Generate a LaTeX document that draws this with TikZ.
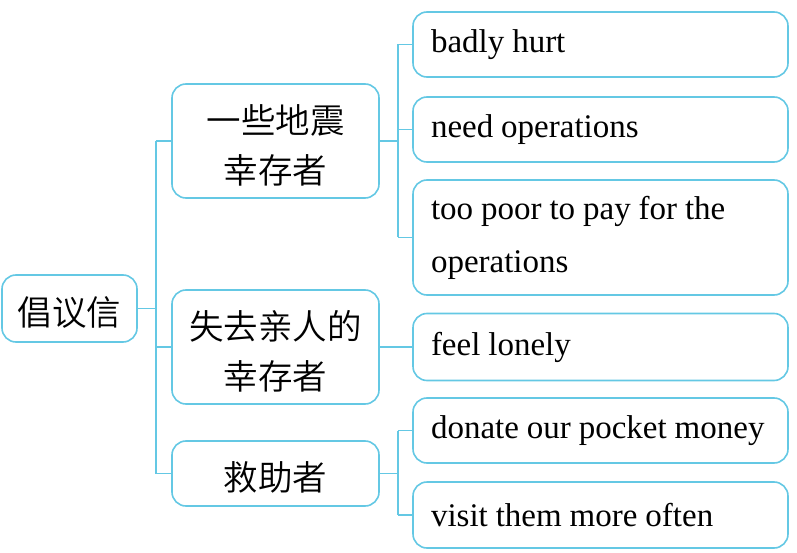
\documentclass[tikz,border=0pt]{standalone}
\usepackage{fontspec}
\setmainfont{Liberation Serif}
\newfontfamily\cjk{Noto Sans CJK SC DemiLight}
\newcommand\mystrut{\rule[-0.1em]{0pt}{1.2em}}
\newcommand\tightspace{\spaceskip 0.24em\relax}
\definecolor{boxblue}{RGB}{100,200,228}
\begin{document}
\begin{tikzpicture}[x=1pt,y=-1pt,
  box/.style={draw=boxblue, line width=1.6pt, rounded corners=14pt, fill=white},
  cn/.style={box, font=\cjk\fontsize{34.5}{50}\selectfont, align=center, inner sep=0pt, minimum width=207pt},
  en/.style={box, font=\fontsize{33}{53}\selectfont, align=left, text width=339pt, inner xsep=18pt, inner ysep=0pt, minimum width=375pt, execute at begin node=\tightspace},
  link/.style={draw=boxblue, line width=1.4pt}]
\useasboundingbox (0,0) rectangle (797,553);
% root
\node[cn, minimum width=135pt, minimum height=67pt] (root) at (69.5,308.5) {\mystrut 倡议信};
% middle
\node[cn, minimum height=114pt] (m1) at (275.5,141) {\mystrut 一些地震\\\mystrut 幸存者};
\node[cn, minimum height=114pt] (m2) at (275.5,347) {\mystrut 失去亲人的\\\mystrut 幸存者};
\node[cn, minimum height=65pt] (m3) at (275.5,473.5) {\mystrut 救助者};
% right
\node[en, minimum height=65pt] (r1) at (600.5,44.5) {badly hurt};
\node[en, minimum height=65pt] (r2) at (600.5,129.5) {need operations};
\node[en, minimum height=115pt] (r3) at (600.5,237.5) {too poor to pay for the\\operations};
\node[en, minimum height=67pt] (r4) at (600.5,347) {feel lonely};
\node[en, minimum height=65pt] (r5) at (600.5,430.5) {\mbox{donate our pocket money}};
\node[en, minimum height=66pt] (r6) at (600.5,515) {visit them more often};
% connectors
\draw[link] (root.east) -- ++(18,0) coordinate (j0);
\draw[link] (j0 |- m1.west) -- (j0 |- m3.west);
\foreach \m in {m1,m2,m3} \draw[link] (j0 |- \m.west) -- (\m.west);
\draw[link] (m1.east) -- ++(18,0) coordinate (j1);
\draw[link] (j1 |- r1.west) -- (j1 |- r3.west);
\foreach \r in {r1,r2,r3} \draw[link] (j1 |- \r.west) -- (\r.west);
\draw[link] (m2.east) -- (r4.west);
\draw[link] (m3.east) -- ++(18,0) coordinate (j2);
\draw[link] (j2 |- r5.west) -- (j2 |- r6.west);
\foreach \r in {r5,r6} \draw[link] (j2 |- \r.west) -- (\r.west);
\end{tikzpicture}
\end{document}
